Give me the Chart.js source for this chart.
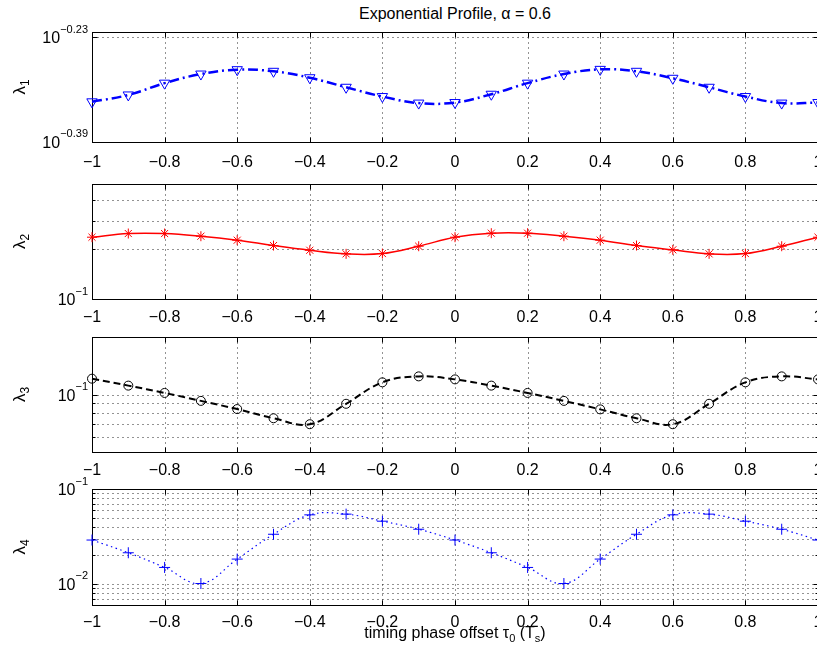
<!DOCTYPE html>
<html>
<head>
<meta charset="utf-8">
<script src="https://cdn.jsdelivr.net/npm/chart.js"></script>
<style>
  html, body { margin: 0; padding: 0; background: #fff; }
  body { position: relative; width: 817px; height: 654px; overflow: hidden; font-family: "Liberation Sans", Arial, Helvetica, sans-serif; }
  canvas { position: absolute; left: 0; top: 0; }
  .title, .xlabel { position: absolute; left: 92px; width: 726px; text-align: center; font-size: 16px; line-height: 18px; color: #000; white-space: nowrap; }
  .title { top: 5px; }
  .xlabel { top: 624px; }
  .sub { font-size: 11px; position: relative; top: 4px; line-height: 0; }
</style>
</head>
<body>
<div class="title">Exponential Profile, &alpha; = 0.6</div>
<canvas id="c1" width="828" height="654"></canvas>
<canvas id="c2" width="828" height="654"></canvas>
<canvas id="c3" width="828" height="654"></canvas>
<canvas id="c4" width="828" height="654"></canvas>
<div class="xlabel">timing phase offset &tau;<span class="sub">0</span> (T<span class="sub">s</span>)</div>
<script>
// timing offsets (in symbol periods) where each eigenvalue was evaluated
const tau = [-1, -0.9, -0.8, -0.7, -0.6, -0.5, -0.4, -0.3, -0.2, -0.1, 0,
             0.1, 0.2, 0.3, 0.4, 0.5, 0.6, 0.7, 0.8, 0.9, 1];

const lambda1 = [0.4690, 0.4805, 0.5009, 0.5173, 0.5253, 0.5223, 0.5106, 0.4937, 0.4778, 0.4669, 0.4678,
                 0.4817, 0.5009, 0.5173, 0.5259, 0.5223, 0.5096, 0.4937, 0.4778, 0.4669, 0.4678];
const lambda2 = [0.2375, 0.2500, 0.2500, 0.2408, 0.2277, 0.2113, 0.1978, 0.1881, 0.1889, 0.2093, 0.2375,
                 0.2512, 0.2512, 0.2408, 0.2277, 0.2113, 0.1990, 0.1881, 0.1889, 0.2093, 0.2375];
const lambda3 = [0.1210, 0.1113, 0.1019, 0.0926, 0.0839, 0.0751, 0.0699, 0.0894, 0.1158, 0.1244, 0.1200,
                 0.1113, 0.1019, 0.0926, 0.0836, 0.0751, 0.0699, 0.0894, 0.1158, 0.1244, 0.1200];
const lambda4 = [0.0290, 0.0213, 0.01492, 0.0101, 0.01827, 0.03337, 0.05343, 0.05435, 0.04581, 0.0377, 0.0290,
                 0.0213, 0.01492, 0.0101, 0.01827, 0.03337, 0.05343, 0.05435, 0.04581, 0.0377, 0.0290];

const xTicks = [-1, -0.8, -0.6, -0.4, -0.2, 0, 0.2, 0.4, 0.6, 0.8, 1];

// y limits and labelled decade ticks (exponents) per panel
const yRange1 = [0.407, 0.600];
const yRange2 = [0.1, 0.5];
const yRange3 = [0.05, 0.2];
const yRange4 = [0.006, 0.1];

const yTickExp1 = [-0.39, -0.23];
const yTickExp2 = [-1];
const yTickExp3 = [-1];
const yTickExp4 = [-2, -1];

const yTickLabels1 = ['\u22120.39', '\u22120.23'];
const yTickLabels2 = ['\u22121'];
const yTickLabels3 = ['\u22121'];
const yTickLabels4 = ['\u22122', '\u22121'];

// minor log grid lines
const yMinor1 = [];
const yMinor2 = [0.2, 0.3, 0.4, 0.5];
const yMinor3 = [0.06, 0.07, 0.08, 0.09, 0.2];
const yMinor4 = [0.007, 0.008, 0.009, 0.02, 0.03, 0.04, 0.05, 0.06, 0.07, 0.08, 0.09];

const FONT = '"Liberation Sans", Arial, Helvetica, sans-serif';

const fmtTick = v => {
  const r = Math.round(v * 10) / 10;
  return (r < 0 ? '\u2212' : '') + Math.abs(r);
};

// boxed axes with dotted grid, inward ticks and 10^x labels
function boxAxes(p) {
  return {
    id: 'boxAxes',
    beforeDatasetsDraw(chart) {
      const { ctx, chartArea: a, scales: { x, y } } = chart;
      const L = Math.round(a.left) + 0.5, R = Math.round(a.right) + 0.5;
      const T = Math.round(a.top) + 0.5, B = Math.round(a.bottom) + 0.5;
      const majors = p.exps.map(e => Math.pow(10, e));
      ctx.save();
      ctx.lineWidth = 1;

      ctx.strokeStyle = 'rgba(0,0,0,0.85)';
      ctx.setLineDash([1, 4]);
      ctx.beginPath();
      xTicks.forEach(t => {
        const px = Math.round(x.getPixelForValue(t)) + 0.5;
        ctx.moveTo(px, T); ctx.lineTo(px, B);
      });
      majors.concat(p.minor).forEach(v => {
        const py = Math.round(y.getPixelForValue(v)) + 0.5;
        ctx.moveTo(L, py); ctx.lineTo(R, py);
      });
      ctx.stroke();
      ctx.setLineDash([]);

      ctx.strokeStyle = '#000';
      ctx.beginPath();
      xTicks.forEach(t => {
        const px = Math.round(x.getPixelForValue(t)) + 0.5;
        ctx.moveTo(px, B); ctx.lineTo(px, B - 5);
        ctx.moveTo(px, T); ctx.lineTo(px, T + 5);
      });
      majors.forEach(v => {
        const py = Math.round(y.getPixelForValue(v)) + 0.5;
        ctx.moveTo(L, py); ctx.lineTo(L + 5, py);
        ctx.moveTo(R, py); ctx.lineTo(R - 5, py);
      });
      p.minor.forEach(v => {
        const py = Math.round(y.getPixelForValue(v)) + 0.5;
        ctx.moveTo(L, py); ctx.lineTo(L + 3, py);
        ctx.moveTo(R, py); ctx.lineTo(R - 3, py);
      });
      ctx.stroke();
      ctx.strokeRect(L, T, R - L, B - T);

      // tick labels: "10" with a raised exponent
      ctx.fillStyle = '#000';
      ctx.textBaseline = 'alphabetic';
      majors.forEach((v, i) => {
        const py = y.getPixelForValue(v);
        ctx.font = '11px ' + FONT;
        const sup = p.labels[i];
        const ws = ctx.measureText(sup).width;
        ctx.textAlign = 'left';
        ctx.fillText(sup, a.left - 4 - ws, py - 4.5);
        ctx.font = '16px ' + FONT;
        ctx.textAlign = 'right';
        ctx.fillText('10', a.left - 4 - ws, py + 6);
      });

      // rotated y label with subscript
      const cy = (a.top + a.bottom) / 2;
      ctx.translate(25, cy);
      ctx.rotate(-Math.PI / 2);
      ctx.font = '17px ' + FONT;
      const wl = ctx.measureText('\u03bb').width;
      ctx.font = '12px ' + FONT;
      const wn = ctx.measureText(p.idx).width;
      ctx.textAlign = 'left';
      ctx.font = '17px ' + FONT;
      ctx.fillText('\u03bb', -(wl + wn) / 2, 0);
      ctx.font = '12px ' + FONT;
      ctx.fillText(p.idx, -(wl + wn) / 2 + wl, 4);
      ctx.restore();
    }
  };
}

function makePanel(id, values, style, range, exps, labels, minor, idx, top, bottom, labelPad) {
  const points = tau.map((t, i) => ({ x: t, y: values[i] }));
  return new Chart(document.getElementById(id), {
    type: 'line',
    data: {
      datasets: [{
        data: points,
        borderColor: style.color,
        borderWidth: style.width,
        borderDash: style.dash,
        tension: 0.4,
        fill: false,
        clip: false,
        pointStyle: style.marker,
        pointRotation: style.rotation || 0,
        pointRadius: style.radius,
        pointBorderColor: style.color,
        pointBackgroundColor: 'rgba(0,0,0,0)',
        pointBorderWidth: 1
      }]
    },
    options: {
      responsive: false,
      animation: false,
      events: [],
      layout: { padding: { top: top, bottom: 654 - bottom - 30, left: 0, right: 10 } },
      plugins: { legend: { display: false }, tooltip: { enabled: false } },
      scales: {
        x: {
          type: 'linear', min: -1, max: 1,
          grid: { display: false, drawTicks: false },
          border: { display: false },
          afterBuildTicks: s => { s.ticks = xTicks.map(v => ({ value: v })); },
          ticks: {
            autoSkip: false, maxRotation: 0, padding: labelPad, color: '#000',
            font: { family: FONT, size: 16 },
            callback: v => fmtTick(v)
          },
          afterFit: s => { s.height = 30; s.paddingLeft = 0; s.paddingRight = 0; }
        },
        y: {
          type: 'logarithmic', min: range[0], max: range[1],
          grid: { display: false, drawTicks: false },
          border: { display: false },
          ticks: { display: false },
          afterFit: s => { s.width = 92; s.paddingTop = 0; s.paddingBottom = 0; }
        }
      }
    },
    plugins: [boxAxes({ exps, labels, minor, idx })]
  });
}

makePanel('c1', lambda1, { color: '#0000ff', width: 2.5, dash: [10, 4, 2, 4], marker: 'triangle', rotation: 180, radius: 6 },
  yRange1, yTickExp1, yTickLabels1, yMinor1, '1', 32, 142, 11);
makePanel('c2', lambda2, { color: '#ff0000', width: 1.5, dash: [], marker: 'star', radius: 5 },
  yRange2, yTickExp2, yTickLabels2, yMinor2, '2', 184, 299, 9);
makePanel('c3', lambda3, { color: '#000000', width: 2, dash: [7, 4], marker: 'circle', radius: 4.5 },
  yRange3, yTickExp3, yTickLabels3, yMinor3, '3', 337, 452, 9);
makePanel('c4', lambda4, { color: '#0000ff', width: 1.2, dash: [1.5, 3.5], marker: 'cross', radius: 5.5 },
  yRange4, yTickExp4, yTickLabels4, yMinor4, '4', 489, 605, 8);
</script>
</body>
</html>
